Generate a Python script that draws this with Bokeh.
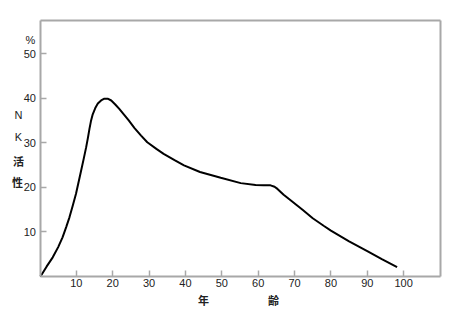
from bokeh.plotting import figure
from bokeh.models import Range1d, FixedTicker, Label, LinearAxis
from bokeh.embed import file_html
from bokeh.resources import INLINE

# age (years) vs NK activity (%)
age = [0, 0.3, 1.8, 3.5, 5.0, 6.2, 7.2, 8.1, 9.0, 9.9, 10.6, 11.3, 12.0, 12.7, 13.2, 13.6,
       14.0, 14.5, 15.2, 15.9, 16.8, 17.7, 18.6, 19.6, 20.7, 21.8, 23.1, 24.4, 26.0,
       27.8, 29.5, 32.0, 34.0, 37.0, 39.6, 44.0, 49.7, 55.2, 59.3, 61.5, 63.4, 64.5,
       65.3, 67.0, 69.0, 72.2, 75.0, 78.0, 80.0, 85.0, 90.0, 94.0, 98.2]
nk = [0, 0.1, 2.1, 4.2, 6.5, 8.7, 11.0, 13.2, 15.8, 18.5, 21.1, 23.7, 26.3, 29.0, 31.2, 33.1,
      34.8, 36.4, 37.8, 38.8, 39.5, 39.9, 39.9, 39.5, 38.6, 37.6, 36.3, 35.0, 33.3,
      31.6, 30.1, 28.6, 27.5, 26.1, 24.9, 23.4, 22.1, 20.9, 20.5, 20.4, 20.4, 20.1,
      19.6, 18.3, 17.0, 14.9, 13.0, 11.3, 10.2, 7.8, 5.6, 3.8, 2.0]

x_ticks = [10, 20, 30, 40, 50, 60, 70, 80, 90, 100]
y_ticks = [10, 20, 30, 40, 50]
x_max, y_max = 110, 57.5

W, H = 456, 324
left, right, top, bottom = 39.5, 439.5, 20, 275.5   # plot box in pixels
sx = (right - left) / x_max
sy = (bottom - top) / y_max

gray = "#a8a8a8"
ink = "#222222"

p = figure(width=W, height=H, output_backend="svg", toolbar_location=None,
           x_range=Range1d(-left / sx, x_max + (W - right) / sx),
           y_range=Range1d(-(H - bottom) / sy, y_max + top / sy),
           min_border=0)
p.grid.visible = False
p.outline_line_color = None
p.background_fill_color = "white"
p.border_fill_color = "white"

p.xaxis.fixed_location = 0
p.yaxis.fixed_location = 0
p.xaxis.bounds = (0, x_max)
p.yaxis.bounds = (0, y_max)

for ax, ticks in ((p.xaxis[0], x_ticks), (p.yaxis[0], y_ticks)):
    ax.ticker = FixedTicker(ticks=ticks)
    ax.axis_line_color = gray
    ax.axis_line_width = 2
    ax.major_tick_line_color = gray
    ax.major_tick_line_width = 1.5
    ax.major_tick_in = 6
    ax.major_tick_out = 0
    ax.minor_tick_line_color = None
    ax.major_label_text_font = "Liberation Sans"
    ax.major_label_text_font_size = "11px"
    ax.major_label_text_color = ink
p.xaxis.major_label_standoff = 3
p.yaxis.major_label_standoff = 4

# top and right edges of the box
top_ax = LinearAxis(fixed_location=y_max, bounds=(0, x_max), ticker=FixedTicker(ticks=[]),
                    axis_line_color=gray, axis_line_width=2, major_tick_line_color=None,
                    minor_tick_line_color=None, major_label_text_font_size="0px")
right_ax = LinearAxis(fixed_location=x_max, bounds=(0, y_max), ticker=FixedTicker(ticks=[]),
                      axis_line_color=gray, axis_line_width=2, major_tick_line_color=None,
                      minor_tick_line_color=None, major_label_text_font_size="0px")
p.add_layout(top_ax, "above")
p.add_layout(right_ax, "right")

p.line(age, nk, line_color="black", line_width=2)

# (text, x px, y px from top, font, style)
labels = [("%", 30, 39, "Liberation Sans", "normal"),
          ("N", 18, 114, "Liberation Sans", "normal"),
          ("K", 18, 136, "Liberation Sans", "normal"),
          ("活", 18, 160, "Noto Sans CJK JP", "bold"),
          ("性", 17, 181, "Noto Sans CJK JP", "bold"),
          ("年", 203, 299, "Noto Sans CJK JP", "bold"),
          ("齢", 273, 299, "Noto Sans CJK JP", "bold")]
for t, x, y, f, st in labels:
    p.add_layout(Label(x=x, y=H - y, x_units="screen", y_units="screen", text=t,
                       text_font=f, text_font_size="11px", text_font_style=st,
                       text_color=ink, text_align="center",
                       text_baseline="middle"))

open("out.html", "w").write(file_html(p, INLINE))
